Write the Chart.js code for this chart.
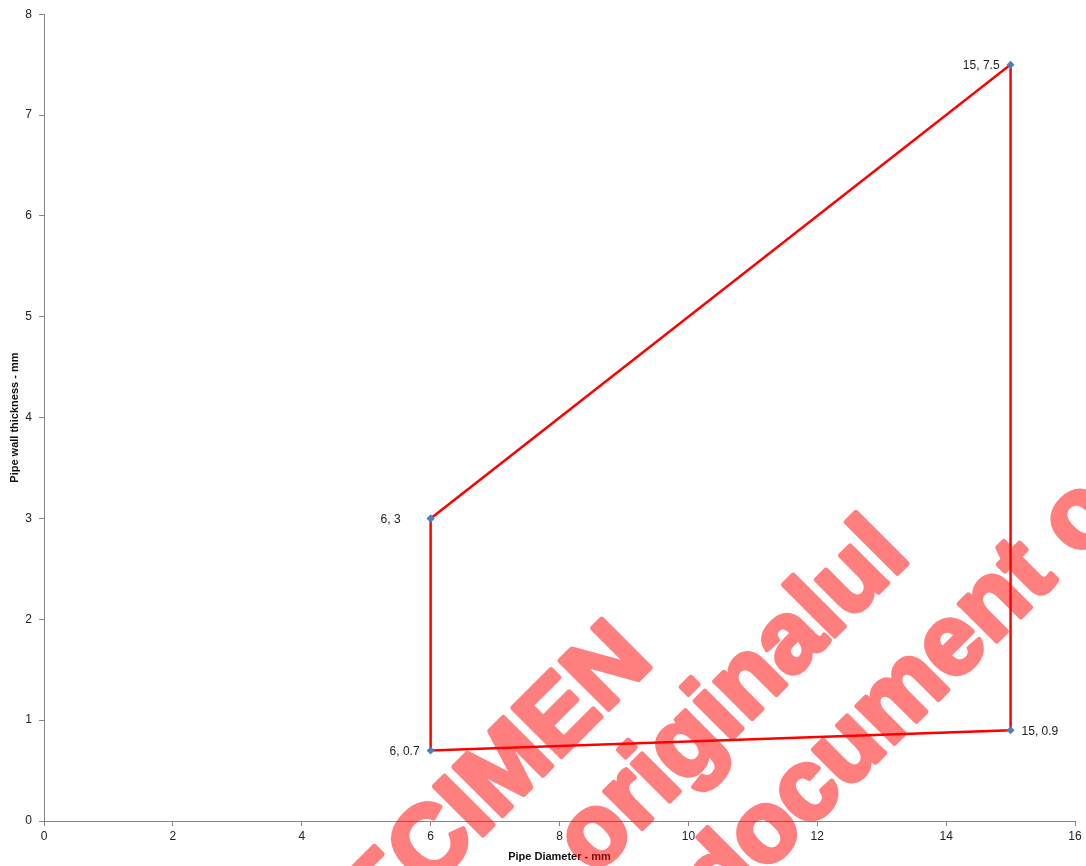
<!DOCTYPE html>
<html>
<head>
<meta charset="utf-8">
<script src="https://cdn.jsdelivr.net/npm/chart.js@4/dist/chart.umd.min.js"></script>
<style>
  html, body { margin: 0; padding: 0; background: #fff; }
  #chart { display: block; }
</style>
</head>
<body>
<canvas id="chart" width="1086" height="866"></canvas>
<script>
// polygon outline, closed back on the first point
const diameters = [6, 15, 15, 6, 6];
const thickness = [3, 7.5, 0.9, 0.7, 3];
const pointLabels = ['6, 3', '15, 7.5', '15, 0.9', '6, 0.7', ''];
const xTicks = [0, 2, 4, 6, 8, 10, 12, 14, 16];
const yTicks = [0, 1, 2, 3, 4, 5, 6, 7, 8];
const xTitle = 'Pipe Diameter - mm';
const yTitle = 'Pipe wall thickness - mm';
const watermark = ['SPECIMEN', 'originalul', 'document o'];

// label side / offset per point (style only)
const labelDx = [-30, -11, 11, -11, 0];

const axisColor = '#868686';
const font = 'Liberation Sans';

const labelPlugin = {
  id: 'pointLabels',
  afterDatasetsDraw(chart){
    const ctx = chart.ctx;
    const meta = chart.getDatasetMeta(0);
    ctx.save();
    ctx.font = '12px "' + font + '"';
    ctx.fillStyle = '#222';
    ctx.textBaseline = 'middle';
    meta.data.forEach((pt, i) => {
      if (!pointLabels[i]) return;
      const dx = labelDx[i];
      ctx.textAlign = dx < 0 ? 'right' : 'left';
      ctx.fillText(pointLabels[i], pt.x + dx, pt.y + 1);
    });
    ctx.restore();
  }
};

// watermark: drawn solid on a layer, then laid over the chart at half opacity
const watermarkPlugin = {
  id: 'watermark',
  afterDraw(chart){
    const layer = document.createElement('canvas');
    layer.width = chart.width; layer.height = chart.height;
    const w = layer.getContext('2d');
    w.rotate(-Math.PI / 4);
    w.font = 'bold 100px "' + font + '"';
    w.fillStyle = '#ff0000';
    w.strokeStyle = '#ff0000';
    w.lineWidth = 5;
    w.lineJoin = 'round';
    w.textAlign = 'left';
    w.textBaseline = 'alphabetic';
    const pos = [[-528, 932], [-200, 1040], [-139, 1158]];
    watermark.forEach((t, i) => {
      w.strokeText(t, pos[i][0], pos[i][1]);
      w.fillText(t, pos[i][0], pos[i][1]);
    });
    const ctx = chart.ctx;
    ctx.save();
    ctx.globalAlpha = 0.5;
    ctx.drawImage(layer, 0, 0);
    ctx.restore();
  }
};

new Chart(document.getElementById('chart'), {
  type: 'scatter',
  data: {
    datasets: [{
      data: diameters.map((x, i) => ({ x, y: thickness[i] })),
      showLine: true,
      borderColor: '#ff0000',
      borderWidth: 2.5,
      pointStyle: 'rectRot',
      pointRadius: 4,
      pointBackgroundColor: '#4f81bd',
      pointBorderColor: '#4f81bd',
      pointBorderWidth: 0,
      tension: 0,
      fill: false
    }]
  },
  options: {
    responsive: false,
    animation: false,
    devicePixelRatio: 1,
    layout: { padding: { top: 14, right: 11, left: 0, bottom: 0 } },
    plugins: { legend: { display: false }, tooltip: { enabled: false } },
    scales: {
      x: {
        type: 'linear',
        min: xTicks[0], max: xTicks[xTicks.length - 1],
        afterBuildTicks: s => { s.ticks = xTicks.map(v => ({ value: v })); },
        afterFit: s => { s.height = 45; },
        grid: { display: true, drawOnChartArea: false, drawTicks: true, tickLength: 5, color: axisColor },
        border: { display: true, color: axisColor, width: 1 },
        ticks: { color: '#222', font: { family: font, size: 12 }, padding: 3, maxRotation: 0 },
        title: { display: true, text: xTitle, color: '#111', font: { family: font, size: 11, weight: 'bold' }, padding: { top: 0, bottom: 2 } }
      },
      y: {
        type: 'linear',
        min: yTicks[0], max: yTicks[yTicks.length - 1],
        afterBuildTicks: s => { s.ticks = yTicks.map(v => ({ value: v })); },
        afterFit: s => { s.width = 44; },
        grid: { display: true, drawOnChartArea: false, drawTicks: true, tickLength: 5, color: axisColor },
        border: { display: true, color: axisColor, width: 1 },
        ticks: { color: '#222', font: { family: font, size: 12 }, padding: 7 },
        title: { display: true, text: yTitle, color: '#111', font: { family: font, size: 11, weight: 'bold' }, padding: { top: 8, bottom: 0 } }
      }
    }
  },
  plugins: [labelPlugin, watermarkPlugin]
});
</script>
</body>
</html>
